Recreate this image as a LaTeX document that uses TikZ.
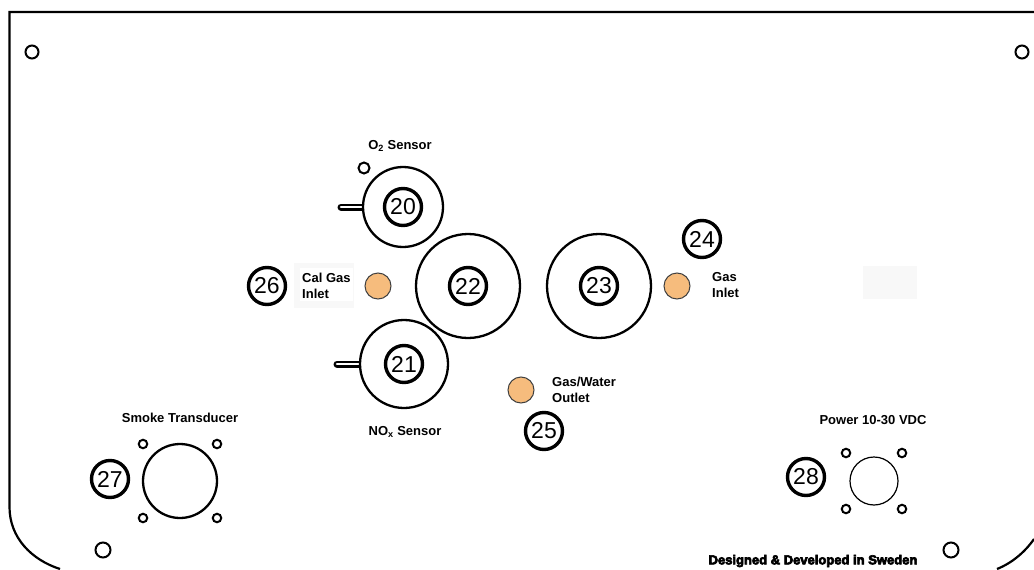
\documentclass[tikz,border=0pt]{standalone}
\usepackage{fontspec}
\setmainfont{Liberation Sans}
\newfontfamily\heavyfont[FakeBold=5]{Liberation Sans Bold}
\definecolor{portfill}{HTML}{F6BC7D}
\definecolor{patchgray}{HTML}{F8F8F8}

\begin{document}
\begin{tikzpicture}[x=1pt,y=-1pt]
	\useasboundingbox (0,0) rectangle (1034,570);
	\clip (0,0) rectangle (1034,570);
	\tikzset{
		sensor/.style={circle,draw,fill=white,line width=2.3pt,inner sep=0pt},
		tag/.style={circle,draw,fill=white,line width=3.4pt,inner sep=0pt,minimum size=37pt,font=\fontsize{23}{23}\selectfont},
		port/.style={circle,draw=black!75,fill=portfill,line width=1pt,inner sep=0pt,minimum size=26pt},
		hole/.style={circle,draw,line width=2pt,inner sep=0pt},
		caption/.style={font=\fontsize{13}{15.5}\selectfont\bfseries,align=left,inner sep=0pt}
	}

	% panel edge
	\draw[line width=2.2pt] (1040,12) -- (9.5,12) -- (9.5,507)
		.. controls (9.5,538) and (32,560) .. (60,569);
	\draw[line width=2.2pt] (997,569) .. controls (1012,563) and (1025,552) .. (1034,539);

	% patches behind the text
	\fill[patchgray] (294,263) rectangle (354,308);
	\fill[white] (300,268) rectangle (353,301);
	\fill[patchgray] (863,266) rectangle (917,299);

	% stubs on the sensors, the sensor circles cover their inner ends
	\coordinate (H20) at (341,207);
	\coordinate (H21) at (337,364);
	\coordinate (C20) at (403,207);
	\coordinate (C21) at (404,364);
	\draw[line width=7pt,line cap=round] (H20) -- (C20);
	\draw[line width=7pt,line cap=round] (H21) -- (C21);
	\draw[white,line width=2.6pt,line cap=round] (H20) -- (C20);
	\draw[white,line width=2.6pt,line cap=round] (H21) -- (C21);

	\begin{scope}[every node/.style={sensor}]
		\node[minimum size=80pt] (S20) at (C20) {};
		\node[minimum size=88pt] (S21) at (C21) {};
		\node[minimum size=104pt] (S22) at (468,286) {};
		\node[minimum size=104pt] (S23) at (599,286) {};
		\node[minimum size=74pt] (Smoke) at (180,481) {};
		\node[minimum size=48pt,line width=1.2pt] (Power) at (874,481) {};
	\end{scope}

	\node[tag] (T20) at (403,207) {20};
	\node[tag] (T21) at (404,364) {21};
	\node[tag] (T22) at (468,286) {22};
	\node[tag] (T23) at (599,286) {23};
	\node[tag] (T24) at (702,239) {24};
	\node[tag] (T25) at (544,431) {25};
	\node[tag] (T26) at (267,286) {26};
	\node[tag] (T27) at (110,479) {27};
	\node[tag] (T28) at (806,477) {28};

	\node[port] (PCal) at (378,286) {};
	\node[port] (PGas) at (677,286) {};
	\node[port] (POut) at (521,390) {};

	\begin{scope}[every node/.style={hole,minimum size=13pt}]
		\node (HTL) at (32,52) {};
		\node (HTR) at (1022,52) {};
		\node[minimum size=15pt] (HBL) at (103,550) {};
		\node[minimum size=15pt] (HBR) at (951,550) {};
		\node[minimum size=11pt] (HO2) at (364,168) {};
	\end{scope}

	\foreach \hx in {143,217}
		\foreach \hy in {444,518}
			\node[hole,minimum size=8.5pt] (K\hx\hy) at (\hx,\hy) {};
	\foreach \hx in {846,902}
		\foreach \hy in {453,509}
			\node[hole,minimum size=8.5pt] (K\hx\hy) at (\hx,\hy) {};

	\node[caption] (LO2) at (400,146) {O\textsubscript{2} Sensor};
	\node[caption] (LNOx) at (405,432) {NO\textsubscript{x} Sensor};
	\node[caption,anchor=west] (LCal) at (302,286) {Cal Gas\\Inlet};
	\node[caption,anchor=west] (LGas) at (712,285) {Gas\\Inlet};
	\node[caption,anchor=west] (LOut) at (552,390) {Gas/Water\\Outlet};
	\node[caption] (LSmoke) at (180,418) {Smoke Transducer};
	\node[caption] (LPower) at (873,420) {Power 10-30 VDC};
	\node[inner sep=0pt,font=\fontsize{13}{15}\selectfont\heavyfont] (LMade) at (813,561) {Designed \& Developed in Sweden};
\end{tikzpicture}
\end{document}
